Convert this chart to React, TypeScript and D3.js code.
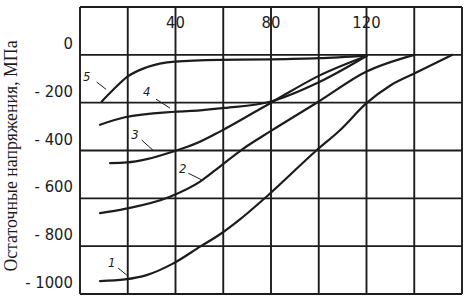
/**
 * ResidualStressChart - residual stress vs depth, five curves on a drafting grid
 */

import { useEffect, useRef } from 'react';
import * as d3 from 'd3';

const WIDTH = 473;
const HEIGHT = 297;

// Axis ticks
const xGrid = [0, 20, 40, 60, 80, 100, 120, 140, 160];
const xTickLabels = [40, 80, 120];
const yGrid = [200, 0, -200, -400, -600, -800, -1000];
const yTickLabels = [0, -200, -400, -600, -800, -1000];
const yTitle = 'Остаточные напряжения, МПа';

// Curves (x, stress in MPa)
const curve1X = [8.4, 18.8, 27.9, 39.1, 50.3, 59.3, 67, 78.9, 99, 109, 120, 130, 140, 156];
const curve1Y = [-946, -939, -921, -872, -802, -746, -688, -586, -400, -314, -202, -128, -78, 0];

const curve2X = [8.4, 18.8, 37.7, 50.3, 58.6, 67.7, 80, 100, 120, 140];
const curve2Y = [-662, -644, -593, -530, -467, -397, -318, -195, -70, 0];

const curve3X = [12.6, 19.6, 28, 39.1, 49, 58.6, 80, 100, 120];
const curve3Y = [-453, -450, -436, -404, -369, -321, -200, -88, -5];

const curve4X = [8.4, 18.8, 39.8, 50.3, 60.7, 80, 100, 120];
const curve4Y = [-292, -261, -238, -232, -222, -195, -115, -5];

const curve5X = [9.1, 13.9, 19.6, 27.9, 39.8, 58.6, 80, 100, 120];
const curve5Y = [-195, -146, -93, -52, -28, -21, -19, -14, -3];

// Curve numbers with their leader lines
const curveNames = ['1', '2', '3', '4', '5'];
const labelX = [13.3, 43, 23, 27.9, 2.8];
const labelY = [-869, -474, -335, -154, -91];
const leaderX0 = [16, 45.4, 25.8, 31.8, 7];
const leaderY0 = [-892, -495, -356, -185, -114];
const leaderX1 = [19.6, 51, 30.7, 37.7, 10.9];
const leaderY1 = [-921, -523, -400, -223, -144];

const INK = '#1c1c1c';
const DRAFT_FONT = "'Liberation Sans Narrow', 'DejaVu Sans Condensed', sans-serif";

export default function App() {
  const svgRef = useRef<SVGSVGElement>(null);

  useEffect(() => {
    if (!svgRef.current) return;
    const svg = d3.select(svgRef.current);
    svg.selectAll('*').remove();

    const margin = { left: 80, right: 11, top: 7, bottom: 3 };

    const x = d3.scaleLinear()
      .domain([0, 160])
      .range([margin.left, WIDTH - margin.right]);

    const y = d3.scaleLinear()
      .domain([200, -1000])
      .range([margin.top, HEIGHT - margin.bottom]);

    svg.append('rect')
      .attr('width', WIDTH)
      .attr('height', HEIGHT)
      .attr('fill', '#fff');

    // Grid
    const grid = svg.append('g')
      .attr('stroke', INK)
      .attr('stroke-width', 1.9);

    grid.selectAll('.vgrid')
      .data(xGrid)
      .join('line')
      .attr('x1', d => x(d))
      .attr('x2', d => x(d))
      .attr('y1', y(200))
      .attr('y2', y(-1000));

    grid.selectAll('.hgrid')
      .data(yGrid)
      .join('line')
      .attr('x1', x(0))
      .attr('x2', x(160))
      .attr('y1', d => y(d))
      .attr('y2', d => y(d));

    // Tick labels
    svg.append('g')
      .selectAll('text')
      .data(xTickLabels)
      .join('text')
      .attr('x', d => x(d))
      .attr('y', 28)
      .attr('text-anchor', 'middle')
      .style('font-family', DRAFT_FONT)
      .style('font-size', '16.5px')
      .style('fill', INK)
      .text(d => String(d));

    svg.append('g')
      .selectAll('text')
      .data(yTickLabels)
      .join('text')
      .attr('x', 73)
      .attr('y', d => y(d) - 6)
      .attr('text-anchor', 'end')
      .style('font-family', DRAFT_FONT)
      .style('font-size', '16.5px')
      .style('fill', INK)
      .text(d => (d === 0 ? '0' : `- ${Math.abs(d)}`));

    // Y title
    svg.append('text')
      .attr('transform', `translate(17,${156}) rotate(-90)`)
      .attr('text-anchor', 'middle')
      .style('font-family', "'Liberation Serif', 'DejaVu Serif', serif")
      .style('font-size', '17.8px')
      .style('fill', INK)
      .text(yTitle);

    // Curves
    const curves = [
      d3.zip(curve1X, curve1Y),
      d3.zip(curve2X, curve2Y),
      d3.zip(curve3X, curve3Y),
      d3.zip(curve4X, curve4Y),
      d3.zip(curve5X, curve5Y),
    ];

    const line = d3.line<number[]>()
      .x(d => x(d[0]))
      .y(d => y(d[1]))
      .curve(d3.curveMonotoneX);

    svg.append('g')
      .selectAll('path')
      .data(curves)
      .join('path')
      .attr('d', d => line(d))
      .attr('fill', 'none')
      .attr('stroke', INK)
      .attr('stroke-width', 2.2)
      .attr('stroke-linecap', 'round');

    // Curve numbers
    const labels = svg.append('g');
    curveNames.forEach((name, i) => {
      labels.append('line')
        .attr('x1', x(leaderX0[i]))
        .attr('y1', y(leaderY0[i]))
        .attr('x2', x(leaderX1[i]))
        .attr('y2', y(leaderY1[i]))
        .attr('stroke', INK)
        .attr('stroke-width', 1);
      labels.append('text')
        .attr('x', x(labelX[i]))
        .attr('y', y(labelY[i]))
        .attr('text-anchor', 'middle')
        .attr('dominant-baseline', 'central')
        .style('font-family', DRAFT_FONT)
        .style('font-style', 'italic')
        .style('font-size', '13px')
        .style('fill', INK)
        .text(name);
    });
  }, []);

  return (
    <div style={{ position: 'absolute', left: 0, top: 0 }}>
      <svg ref={svgRef} width={WIDTH} height={HEIGHT} style={{ display: 'block' }} />
    </div>
  );
}
